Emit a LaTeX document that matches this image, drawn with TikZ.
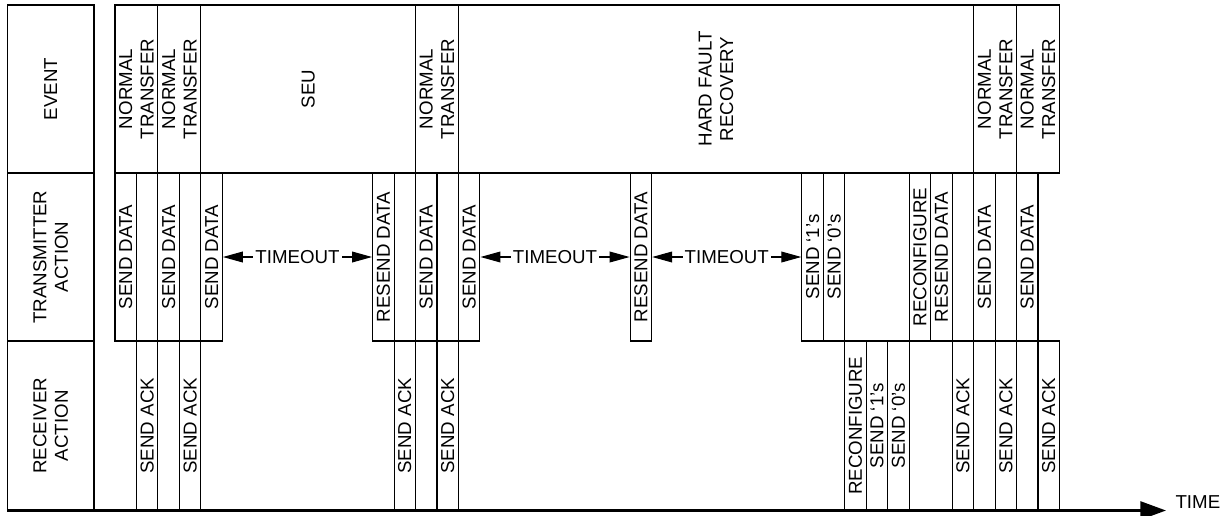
\documentclass[tikz,border=0pt]{standalone}
\usepackage{fontspec}
\setmainfont{Liberation Sans}
\usetikzlibrary{arrows.meta}
\newcommand\lbl{\fontsize{9.35pt}{10.75pt}\selectfont}
\newcommand\cw{21.465}
\begin{document}
\begin{tikzpicture}[x=0.5pt,y=-0.5pt, line width=0.55pt,
 cell/.style={draw, rotate=90, inner sep=0pt, align=center, font=\lbl},
 txbox/.style={cell, minimum width=84pt, minimum height=10.7325pt},
 rxbox/.style={cell, minimum width=84.75pt, minimum height=10.7325pt},
 evbox/.style={cell, minimum width=84pt, minimum height=#1*10.7325pt},
 labelbox/.style={cell, minimum width=#1, minimum height=43.35pt},
 tmo/.style={{Triangle[length=10pt,width=5.4pt]}-{Triangle[length=10pt,width=5.4pt]}},
 tmolabel/.style={fill=white, inner sep=1pt, font=\lbl},
 timeaxis/.style={line width=1.3pt, -{Triangle[length=12.8pt,width=9pt]}},
]
\useasboundingbox (0,0) rectangle (1225,515);

% row headers
\node[labelbox=84pt] (hev) at (50.65,89) {EVENT};
\node[labelbox=84pt] (htx) at (50.65,257) {TRANSMITTER\\ACTION};
\node[labelbox=84.75pt] (hrx) at (50.65,425.75) {RECEIVER\\ACTION};

% event row
\node[evbox=2]  (e1) at ({115+1*\cw},89) {NORMAL\\TRANSFER};
\node[evbox=2]  (e2) at ({115+3*\cw},89) {NORMAL\\TRANSFER};
\node[evbox=10] (e3) at ({115+9*\cw},89) {SEU};
\node[evbox=2]  (e4) at ({115+15*\cw},89) {NORMAL\\TRANSFER};
\node[evbox=24] (e5) at ({115+28*\cw},89) {HARD FAULT\\RECOVERY};
\node[evbox=2]  (e6) at ({115+41*\cw},89) {NORMAL\\TRANSFER};
\node[evbox=2]  (e7) at ({115+43*\cw},89) {NORMAL\\TRANSFER};

% transmitter row
\node[txbox] (t0)  at ({115+0.5*\cw},257)  {SEND DATA};
\node[txbox] (t2)  at ({115+2.5*\cw},257)  {SEND DATA};
\node[txbox] (t4)  at ({115+4.5*\cw},257)  {SEND DATA};
\node[txbox] (t12) at ({115+12.5*\cw},257) {RESEND DATA};
\node[txbox] (t14) at ({115+14.5*\cw},257) {SEND DATA};
\node[txbox] (t16) at ({115+16.5*\cw},257) {SEND DATA};
\node[txbox] (t24) at ({115+24.5*\cw},257) {RESEND DATA};
\node[txbox] (t32) at ({115+32.5*\cw},257) {SEND ‘1’s};
\node[txbox] (t33) at ({115+33.5*\cw},257) {SEND ‘0’s};
\node[txbox] (t37) at ({115+37.5*\cw},257) {RECONFIGURE};
\node[txbox] (t38) at ({115+38.5*\cw},257) {RESEND DATA};
\node[txbox] (t40) at ({115+40.5*\cw},257) {SEND DATA};
\node[txbox] (t42) at ({115+42.5*\cw},257) {SEND DATA};

% receiver row
\node[rxbox] (r1)  at ({115+1.5*\cw},425.75)  {SEND ACK};
\node[rxbox] (r3)  at ({115+3.5*\cw},425.75)  {SEND ACK};
\node[rxbox] (r13) at ({115+13.5*\cw},425.75) {SEND ACK};
\node[rxbox] (r15) at ({115+15.5*\cw},425.75) {SEND ACK};
\node[rxbox] (r34) at ({115+34.5*\cw},425.75) {RECONFIGURE};
\node[rxbox] (r35) at ({115+35.5*\cw},425.75) {SEND ‘1’s};
\node[rxbox] (r36) at ({115+36.5*\cw},425.75) {SEND ‘0’s};
\node[rxbox] (r39) at ({115+39.5*\cw},425.75) {SEND ACK};
\node[rxbox] (r41) at ({115+41.5*\cw},425.75) {SEND ACK};
\node[rxbox] (r43) at ({115+43.5*\cw},425.75) {SEND ACK};

% timeouts
\draw[tmo] (t4) -- node[tmolabel] (to1) {TIMEOUT} (t12);
\draw[tmo] (t16) -- node[tmolabel] (to2) {TIMEOUT} (t24);
\draw[tmo] (t24) -- node[tmolabel] (to3) {TIMEOUT} (t32);

% time axis
\coordinate (ts) at (7.3,510.5);
\coordinate (te) at (1166,510.5);
\draw[timeaxis] (ts) -- (te);
\node[font=\lbl, anchor=base west, inner sep=0pt] (time) at (1175,508) {TIME};
\end{tikzpicture}
\end{document}
